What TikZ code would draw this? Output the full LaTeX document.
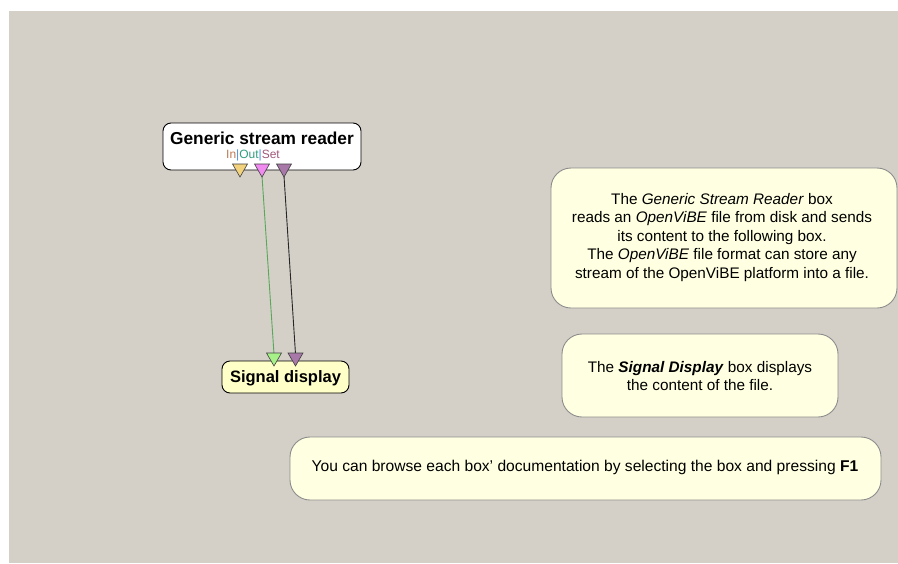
\documentclass[tikz,border=0pt]{standalone}
\usepackage{fontspec}
\setmainfont{Liberation Sans}
\definecolor{bggray}{HTML}{D4D0C8}
\definecolor{notefill}{HTML}{FFFFE1}
\definecolor{noteborder}{HTML}{8C8C8C}
\definecolor{sdfill}{HTML}{FFFFC8}
\definecolor{intri}{HTML}{F2D27C}
\definecolor{outtri}{HTML}{F08AF0}
\definecolor{settri}{HTML}{A878A8}
\definecolor{greentri}{HTML}{A6F288}
\definecolor{incol}{HTML}{C07A50}
\definecolor{outcol}{HTML}{2E9E7E}
\definecolor{setcol}{HTML}{A0587A}
\definecolor{sepcol}{HTML}{4A90E0}
\definecolor{greenline}{HTML}{58A858}
\tikzset{
  boxnode/.style={draw=black, line width=0.9pt, rounded corners=8pt, inner sep=0pt},
  notebox/.style={draw=noteborder, fill=notefill, line width=0.9pt, rounded corners=20pt, inner sep=0pt},
  titletext/.style={font=\bfseries\fontsize{16.5}{18}\selectfont, inner sep=0pt},
  notetext/.style={align=center, font=\fontsize{15.3}{18.5}\selectfont, inner sep=0pt},
  linktext/.style={font=\fontsize{12}{13}\selectfont, inner sep=0pt},
  connector/.style={line width=0.9pt},
  tribox/.style={draw=black!75, line width=0.6pt, line join=miter}
}
\newcommand\ovtri[4]{\filldraw[tribox, fill=#4] (#1-7.5,#2) -- (#1+7.5,#2) -- (#1,#3) -- cycle;}
\begin{document}
\begin{tikzpicture}[x=1pt,y=-1pt]
\useasboundingbox (0,0) rectangle (898,563);
\fill[bggray] (9,11) rectangle (898,563);

% comment boxes
\node[notebox, minimum width=346pt, minimum height=140pt] (c1) at (724,238) {};
\node[notetext] (c1t) at (722,237.5) {The \textit{Generic Stream Reader} box\\
reads an \textit{OpenViBE} file from disk and sends\\
its content to the following box.\\
The \textit{OpenViBE} file format can store any\\
stream of the OpenViBE platform into a file.};

\node[notebox, minimum width=276pt, minimum height=83pt] (c2) at (700,375.5) {};
\node[notetext] (c2t) at (700,376) {The \textbf{\textit{Signal Display}} box displays\\
the content of the file.};

\node[notebox, minimum width=591pt, minimum height=63pt] (c3) at (585.5,468.5) {};
\node[notetext, font=\fontsize{15.6}{18.5}\selectfont] (c3t) at (585,467.5) {You can browse each box' documentation by selecting the box and pressing \textbf{F1}};

% boxes
\node[boxnode, fill=white, minimum width=198pt, minimum height=47pt] (gsr) at (262,146.5) {};
\node[titletext, font=\bfseries\fontsize{17.3}{18}\selectfont] (gsrt) at (262,138) {Generic stream reader};
\node[linktext] (gsrl) at (253,155) {\textcolor{incol}{In}\textcolor{sepcol}{|}\textcolor{outcol}{Out}\textcolor{sepcol}{|}\textcolor{setcol}{Set}};

\node[boxnode, fill=sdfill, minimum width=127pt, minimum height=32pt] (sd) at (285.5,377) {};
\node[titletext] (sdt) at (285.5,378.5) {Signal display};

% connectors
\coordinate (gsrout) at (262,176);
\coordinate (gsrset) at (284,176);
\coordinate (sdin1) at (274,354);
\coordinate (sdin2) at (295.5,354);
\draw[connector, greenline] (gsrout) -- (sdin1);
\draw[connector, black!85] (gsrset) -- (sdin2);

% connector triangles
\ovtri{240}{164}{177}{intri}
\ovtri{262}{164}{177}{outtri}
\ovtri{284}{164}{177}{settri}
\ovtri{274}{353}{366}{greentri}
\ovtri{295.5}{353}{366}{settri}
\end{tikzpicture}
\end{document}
